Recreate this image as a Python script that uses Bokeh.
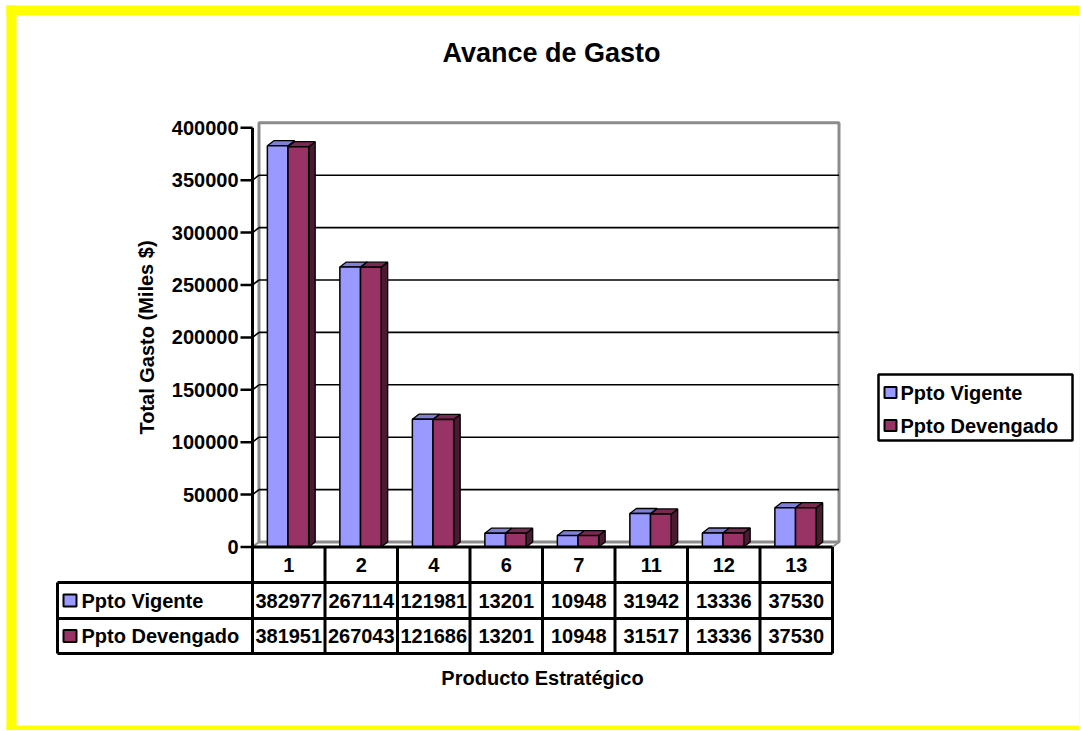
from bokeh.plotting import figure
from bokeh.models import Range1d
from bokeh.embed import file_html
from bokeh.resources import INLINE
from bokeh.core.properties import value

# ---------------- data ----------------
chart_title = "Avance de Gasto"
x_title = "Producto Estratégico"
y_title = "Total Gasto (Miles $)"
categories = ["1", "2", "4", "6", "7", "11", "12", "13"]
vigente = [382977, 267114, 121981, 13201, 10948, 31942, 13336, 37530]
devengado = [381951, 267043, 121686, 13201, 10948, 31517, 13336, 37530]
series_names = ["Ppto Vigente", "Ppto Devengado"]
y_ticks = [0, 50000, 100000, 150000, 200000, 250000, 300000, 350000, 400000]
y_max = 400000

# ---------------- styles ----------------
FONT = value("Liberation Sans")
BLUE, BLUE_TOP, BLUE_SIDE = "#9999FF", "#7F7FD6", "#4C4C80"
RED, RED_TOP, RED_SIDE = "#993366", "#7A2952", "#4A1A30"
WALL = "#8C8C8C"
YELLOW = "#FFFF00"

# ---------------- layout helpers (page px -> data) ----------------
W, H = 1080, 730
PAGE = 0
X0 = 252.0      # page x of the value axis
SLOT = 72.5     # px per category
Y0 = 546.5      # page y of value 0
UPP = 954.2     # value units per px


def X(px):
    return (px - X0) / SLOT


def Y(py):
    return (Y0 - py) * UPP


n = len(categories)
DX = 6.5 / SLOT
DY = 5 * UPP

p = figure(width=W, height=H, output_backend="svg", toolbar_location=None,
           x_range=Range1d(X(PAGE), X(PAGE + W)), y_range=Range1d(Y(PAGE + H), Y(PAGE)),
           x_axis_location=None, y_axis_location=None,
           min_border_left=0, min_border_right=0,
           min_border_top=0, min_border_bottom=0,
           border_fill_color="white", background_fill_color="white",
           outline_line_color=None)
p.grid.visible = False

# ---------------- yellow frame ----------------
p.quad(left=[X(6), X(6), X(6)], right=[X(16), X(1090), X(1090)],
       bottom=[Y(740), Y(15), Y(740)], top=[Y(5), Y(5), Y(725)],
       fill_color=YELLOW, line_color=None)
p.quad(left=[X(1078.5)], right=[X(1090)], bottom=[Y(740)], top=[Y(5)],
       fill_color="#FFFFC8", line_color=None)

# ---------------- back wall & gridlines ----------------
p.quad(left=[DX], right=[n + DX], bottom=[DY], top=[y_max + DY],
       fill_color="white", line_color=WALL, line_width=3)
inner = [t for t in y_ticks if 0 < t < y_max]
p.segment(x0=[DX] * len(inner), y0=[t + DY for t in inner],
          x1=[n + DX] * len(inner), y1=[t + DY for t in inner],
          line_color="black", line_width=1.6)
p.segment(x0=[0] * len(inner), y0=inner, x1=[DX] * len(inner),
          y1=[t + DY for t in inner], line_color="black", line_width=1.6)
p.segment(x0=[0, n], y0=[0, 0], x1=[DX, n + DX], y1=[DY, DY],
          line_color=WALL, line_width=2)

# ---------------- bars (3D look) ----------------
def bar_set(vals, off, w, front, top_c, side_c):
    lefts = [i + off for i in range(n)]
    rights = [i + off + w for i in range(n)]
    side_xs = [[r, r + DX, r + DX, r] for r in rights]
    side_ys = [[0, DY, v + DY, v] for v in vals]
    top_xs = [[l, l + DX, r + DX, r] for l, r in zip(lefts, rights)]
    top_ys = [[v, v + DY, v + DY, v] for v in vals]
    p.patches(xs=side_xs, ys=side_ys, fill_color=side_c, line_color="black", line_width=1.3)
    p.patches(xs=top_xs, ys=top_ys, fill_color=top_c, line_color="black", line_width=1.3)
    p.quad(left=lefts, right=rights, bottom=[0] * n, top=vals,
           fill_color=front, line_color="black", line_width=1.5)


BW = 0.285
bar_set(vigente, 0.205, BW, BLUE, BLUE_TOP, BLUE_SIDE)
bar_set(devengado, 0.205 + BW, BW, RED, RED_TOP, RED_SIDE)

# ---------------- value axis ----------------
p.segment(x0=[0], y0=[0], x1=[0], y1=[y_max], line_color="black", line_width=3)
p.segment(x0=[X(240)] * len(y_ticks), y0=y_ticks, x1=[0] * len(y_ticks), y1=y_ticks,
          line_color="black", line_width=2.5)
p.text(x=[X(238)] * len(y_ticks), y=y_ticks, text=[str(t) for t in y_ticks],
       text_font=FONT, text_font_style="bold", text_font_size="20px",
       text_align="right", text_baseline="middle", text_color="black")
p.text(x=[X(146)], y=[Y(337)], text=[y_title], angle=1.5708,
       text_font=FONT, text_font_style="bold", text_font_size="20px",
       text_align="center", text_baseline="middle", text_color="black")

# ---------------- data table ----------------
r_top, r1, r2, r_bot = 0, Y(582), Y(618), Y(653)
p.segment(x0=[0, X(57), X(57), X(57)], y0=[r_top, r1, r2, r_bot],
          x1=[n] * 4, y1=[r_top, r1, r2, r_bot], line_color="black", line_width=3)
p.segment(x0=list(range(n + 1)) + [X(57)], y0=[r_top] * (n + 1) + [r1],
          x1=list(range(n + 1)) + [X(57)], y1=[r_bot] * (n + 2),
          line_color="black", line_width=3)
centers = [i + 0.5 for i in range(n)]
txt = dict(text_font=FONT, text_font_style="bold", text_font_size="20px",
           text_baseline="middle", text_color="black")
p.text(x=centers, y=[Y(564.5)] * n, text=categories, text_align="center", **txt)
p.text(x=centers, y=[Y(600)] * n, text=[str(v) for v in vigente], text_align="center", **txt)
p.text(x=centers, y=[Y(635.5)] * n, text=[str(v) for v in devengado], text_align="center", **txt)
row_y = [600, 635.5]
p.quad(left=[X(63)] * 2, right=[X(76)] * 2,
       bottom=[Y(y + 6) for y in row_y], top=[Y(y - 6) for y in row_y],
       fill_color=[BLUE, RED], line_color="black", line_width=2)
p.text(x=[X(81)] * 2, y=[Y(y) for y in row_y], text=series_names, text_align="left", **txt)

# ---------------- legend ----------------
p.quad(left=[X(878)], right=[X(1072)], bottom=[Y(440)], top=[Y(374)],
       fill_color="white", line_color="black", line_width=2.5)
leg_y = [392, 425]
p.quad(left=[X(884)] * 2, right=[X(896)] * 2,
       bottom=[Y(y + 5.5) for y in leg_y], top=[Y(y - 5.5) for y in leg_y],
       fill_color=[BLUE, RED], line_color="black", line_width=2)
p.text(x=[X(900)] * 2, y=[Y(y) for y in leg_y], text=series_names, text_align="left", **txt)

# ---------------- titles ----------------
p.text(x=[X(551)], y=[Y(52)], text=[chart_title], text_align="center",
       text_font=FONT, text_font_style="bold", text_font_size="27px",
       text_baseline="middle", text_color="black")
p.text(x=[X(542)], y=[Y(677)], text=[x_title], text_align="center", **txt)

open("out.html", "w").write(file_html(p, INLINE))
